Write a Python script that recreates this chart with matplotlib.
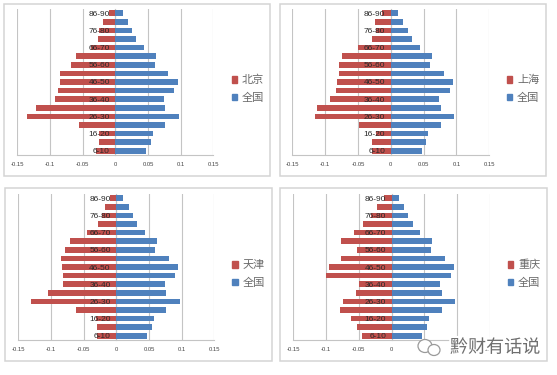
import matplotlib
matplotlib.use('Agg')
import matplotlib.pyplot as plt
import matplotlib.patheffects as pe
from matplotlib.patches import Rectangle, Ellipse, Patch

plt.rcParams['font.family'] = ['Noto Sans CJK SC', 'DejaVu Sans']

W, H = 557, 375

# age groups, bottom to top
ages = ['6-10', '11-15', '16-20', '21-25', '26-30', '31-35', '36-40', '41-45', '46-50',
        '51-55', '56-60', '61-65', '66-70', '71-75', '76-80', '81-85', '86-90']

national = [0.047, 0.054, 0.057, 0.0765, 0.097, 0.0765, 0.074, 0.09, 0.095,
            0.081, 0.06, 0.062, 0.044, 0.032, 0.0255, 0.019, 0.011]
beijing = [-0.03, -0.025, -0.025, -0.055, -0.135, -0.122, -0.093, -0.088, -0.085,
           -0.084, -0.068, -0.061, -0.038, -0.026, -0.025, -0.0194, -0.0097]
shanghai = [-0.028, -0.028, -0.022, -0.049, -0.115, -0.112, -0.092, -0.084, -0.082,
            -0.079, -0.079, -0.075, -0.05, -0.029, -0.022, -0.024, -0.014]
tianjin = [-0.03, -0.03, -0.031, -0.062, -0.131, -0.104, -0.081, -0.081, -0.083,
           -0.085, -0.078, -0.071, -0.045, -0.028, -0.022, -0.018, -0.009]
chongqing = [-0.045, -0.053, -0.062, -0.079, -0.074, -0.055, -0.05, -0.1, -0.095,
             -0.078, -0.053, -0.077, -0.057, -0.044, -0.031, -0.022, -0.012]

xticks = [-0.15, -0.1, -0.05, 0, 0.05, 0.1, 0.15]
xtick_labels = ['-0.15', '-0.1', '-0.05', '0', '0.05', '0.1', '0.15']

RED = '#c0504d'
BLUE = '#4f81bd'
GRID = '#c4c4c4'


# Draws one pyramid. frame and box are (left, top, right, bottom) in pixels.
def pyramid(fig, city, values, frame, box, legend_x, legend_y):
    fig.add_artist(Rectangle((frame[0] / W, 1 - frame[3] / H), (frame[2] - frame[0]) / W,
                             (frame[3] - frame[1]) / H, transform=fig.transFigure,
                             fill=False, ec='#d4d4d4', lw=1.1))

    ax = fig.add_axes([box[0] / W, 1 - box[3] / H, (box[2] - box[0]) / W, (box[3] - box[1]) / H])

    # moving the spine resets the ticks, so it has to come before the tick setup
    ax.spines['left'].set_position(('data', 0))
    ax.spines['left'].set_zorder(1)
    ax.spines['left'].set_color(GRID)
    ax.spines['bottom'].set_color(GRID)
    ax.spines['top'].set_visible(False)
    ax.spines['right'].set_visible(False)

    ax.barh(range(len(ages)), values, height=0.66, color=RED, zorder=3, label=city)
    ax.barh(range(len(ages)), national, height=0.66, color=BLUE, zorder=3, label='全国')

    ax.set_xlim(-0.15, 0.15)
    ax.set_ylim(-0.5, len(ages) - 0.5)
    ax.set_xticks(xticks)
    ax.set_xticklabels(xtick_labels, fontsize=4.2, color='#444444', family='Liberation Sans')
    ax.tick_params(axis='x', length=0, pad=5)
    ax.grid(axis='x', color=GRID, lw=0.8)

    # every second age group is labelled, the labels sit on top of the bars
    ax.set_yticks(range(len(ages)))
    ax.set_yticklabels([a if i % 2 == 0 else '' for i, a in enumerate(ages)],
                       fontsize=6, color='#2a2a2a', family='Liberation Sans')
    ax.tick_params(axis='y', length=0, pad=4)
    ax.set_axisbelow(True)
    ax.yaxis.set_zorder(5)

    handles = [Patch(color=RED), Patch(color=BLUE)]
    ax.legend(handles, [city, '全国'], loc='center left', frameon=False,
              bbox_to_anchor=(legend_x / W, 1 - legend_y / H), bbox_transform=fig.transFigure,
              prop={'size': 8, 'family': ['Noto Sans CJK SC']}, labelcolor='#6a6a6a',
              handlelength=0.5, handleheight=0.5, handletextpad=0.45,
              labelspacing=0.65, borderpad=0, borderaxespad=0)
    return ax


fig = plt.figure(figsize=(W / 100, H / 100), dpi=100, facecolor='white')

pyramid(fig, '北京', beijing, (3.5, 3.5, 270, 176), (17.3, 9, 213.5, 155), 231.5, 89)
pyramid(fig, '上海', shanghai, (279.7, 3.5, 546, 176), (292.3, 9, 489.3, 155), 506.5, 89)
pyramid(fig, '天津', tianjin, (4.5, 188, 272, 361), (18.3, 194, 214.3, 340), 232, 274)
pyramid(fig, '重庆', chongqing, (280, 188, 547, 361), (293.3, 194, 490, 340), 507.5, 274)

# watermark in the bottom right corner
halo = [pe.withStroke(linewidth=3, foreground='white')]
for cx, cy, rx, ry in [(425, 346, 7, 6.5), (434, 350, 6, 5.5)]:
    fig.add_artist(Ellipse((cx / W, 1 - cy / H), 2 * rx / W, 2 * ry / H, transform=fig.transFigure,
                           fc='white', ec='#9a9a9a', lw=0.9, zorder=8))
fig.text(450 / W, 1 - 347.5 / H, '黔财有话说', fontsize=13, color='#6e6e6e', va='center', ha='left',
         path_effects=halo, zorder=9)

fig.savefig('out.png', dpi=100)
